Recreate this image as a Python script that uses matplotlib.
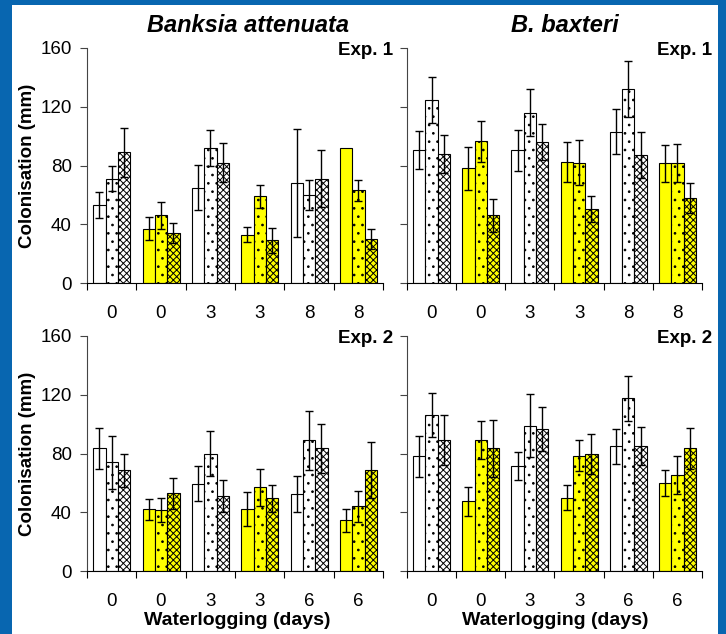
import matplotlib
matplotlib.use('Agg')
import matplotlib.pyplot as plt
from matplotlib.patches import Rectangle

plt.rcParams['font.family'] = ['Liberation Sans', 'DejaVu Sans']
plt.rcParams['hatch.color'] = 'black'
plt.rcParams['hatch.linewidth'] = 0.7

# waterlogging days under each group of three bars
days_exp1 = ['0', '0', '3', '3', '8', '8']
days_exp2 = ['0', '0', '3', '3', '6', '6']

# one row per group, three bars per group (plain, dotted, cross-hatched)
att_exp1 = [[53, 71, 89], [37, 46, 34], [65, 92, 82], [33, 59, 29], [68, 60, 71], [92, 63, 30]]
att_exp1_err = [[9, 8.5, 16.5], [8, 9, 7], [15.5, 12, 13], [5, 8, 8.5], [37, 10, 19.5], [0, 7, 7]]

bax_exp1 = [[90.5, 124.5, 88], [78, 96.5, 46], [90.5, 116, 96], [82.5, 82, 50.5], [103, 132, 87], [81.5, 81.5, 58]]
bax_exp1_err = [[13, 15.5, 13], [14.5, 14, 11.5], [14, 16, 12.5], [13.5, 15.5, 9], [15.5, 19, 15.5], [12.5, 13, 10]]

att_exp2 = [[83.5, 74, 68.5], [42, 41.5, 53], [59.5, 80, 51], [42, 57, 49.5], [52.5, 89, 83.5], [34.5, 44, 68.5]]
att_exp2_err = [[14, 18, 11], [7, 8, 10.5], [12, 15, 11], [11.5, 12.5, 9], [12, 20, 16.5], [8, 10.5, 19]]

bax_exp2 = [[78, 106.5, 89], [47.5, 89, 83.5], [71.5, 99, 96.5], [50, 78.5, 79.5], [85, 117.5, 85], [60, 65.5, 83.5]]
bax_exp2_err = [[14, 15, 17], [10, 13, 19.5], [9.5, 21.5, 15], [8.5, 10.5, 13.5], [12, 15.5, 13], [9, 13, 14]]

group_colours = ['white', '#ffff00', 'white', '#ffff00', 'white', '#ffff00']
bar_hatches = ['', '..', 'xxxxx']

W, H = 726, 634
fig = plt.figure(figsize=(W / 100, H / 100), dpi=100)
fig.patch.set_facecolor('#0866b0')
fig.add_artist(Rectangle((12 / W, 0), 706 / W, 629 / H, transform=fig.transFigure,
                         facecolor='white', edgecolor='none', zorder=-1))


def draw_panel(rect, means, errs, days, exp_label, show_ylabels):
    ax = fig.add_axes(rect)
    ax.set_facecolor('white')
    bw = 0.25
    for i, (grp, grp_err) in enumerate(zip(means, errs)):
        for j in range(3):
            x = i + 0.5 + (j - 1) * bw
            ax.bar(x, grp[j], width=bw, color=group_colours[i], edgecolor='black',
                   linewidth=0.8, hatch=bar_hatches[j], zorder=2)
            if grp_err[j] > 0:
                ax.errorbar(x, grp[j], yerr=grp_err[j], fmt='none', ecolor='black',
                            elinewidth=1, capsize=3, capthick=1, zorder=3)
    ax.set_xlim(0, 6)
    ax.set_ylim(0, 160)
    for s in ['top', 'right']:
        ax.spines[s].set_visible(False)
    ax.spines['left'].set_color('#444444')
    ax.spines['bottom'].set_color('black')
    ax.set_xticks(range(7))
    ax.set_xticklabels([])
    ax.set_xticks([i + 0.5 for i in range(6)], minor=True)
    ax.set_xticklabels(days, minor=True)
    ax.tick_params(axis='x', which='major', direction='out', length=5, color='black')
    ax.tick_params(axis='x', which='minor', length=0, pad=16, labelsize=13.5)
    ax.set_yticks([0, 40, 80, 120, 160])
    ax.tick_params(axis='y', direction='out', length=5, pad=6, labelsize=13.5, color='#444444')
    if not show_ylabels:
        ax.set_yticklabels([])
    ax.text(1.035, 0.972, exp_label, transform=ax.transAxes, ha='right', va='baseline',
            fontsize=13.5, fontweight='bold')
    return ax


left_x, right_x = 87 / W, 407 / W
width_l, width_r = 296 / W, 295 / W
top_y, bot_y = (H - 283) / H, (H - 571) / H
ht = 235 / H

draw_panel([left_x, top_y, width_l, ht], att_exp1, att_exp1_err, days_exp1, 'Exp. 1', True)
draw_panel([right_x, top_y, width_r, ht], bax_exp1, bax_exp1_err, days_exp1, 'Exp. 1', False)
draw_panel([left_x, bot_y, width_l, ht], att_exp2, att_exp2_err, days_exp2, 'Exp. 2', True)
draw_panel([right_x, bot_y, width_r, ht], bax_exp2, bax_exp2_err, days_exp2, 'Exp. 2', False)

# panel titles
fig.text(248 / W, (H - 32) / H, 'Banksia attenuata', ha='center', va='baseline',
         fontsize=17, fontweight='bold', style='italic')
fig.text(565 / W, (H - 32) / H, 'B. baxteri', ha='center', va='baseline',
         fontsize=17, fontweight='bold', style='italic')

# axis labels
for yc in [(H - 165.5) / H, (H - 453.5) / H]:
    fig.text(28 / W, yc, 'Colonisation (mm)', rotation=90, ha='center', va='center',
             fontsize=13.5, fontweight='bold')
for xc in [237 / W, 555 / W]:
    fig.text(xc, (H - 625) / H, 'Waterlogging (days)', ha='center', va='baseline',
             fontsize=14, fontweight='bold')

fig.savefig('out.png', dpi=100, facecolor=fig.get_facecolor())
